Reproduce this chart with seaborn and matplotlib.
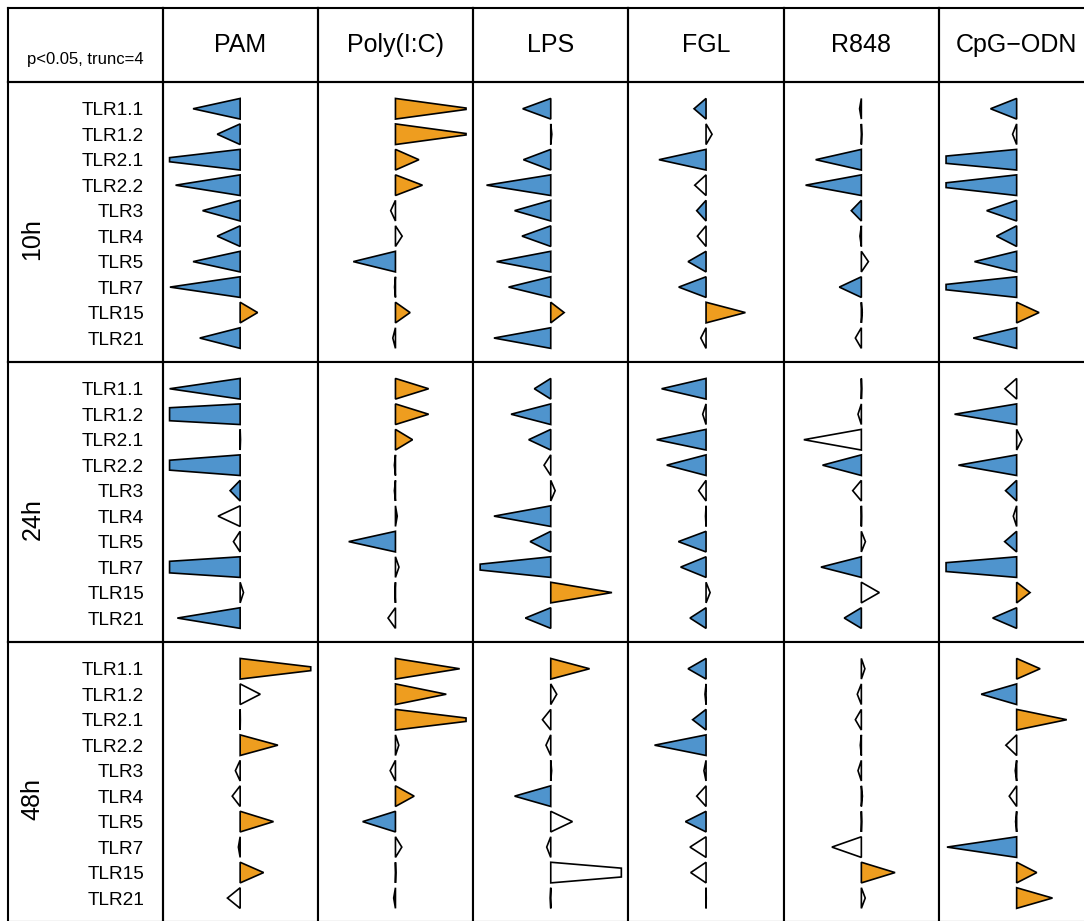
import numpy as np
import pandas as pd
import matplotlib
matplotlib.use("Agg")
import matplotlib.pyplot as plt
import seaborn as sns

TRUNC = 4
HALF = 0.405

tlrs = ["TLR1.1", "TLR1.2", "TLR2.1", "TLR2.2", "TLR3", "TLR4", "TLR5", "TLR7", "TLR15", "TLR21"]
stimuli = ["PAM", "Poly(I:C)", "LPS", "FGL", "R848", "CpG\u2212ODN"]
times = ["10h", "24h", "48h"]

# log fold changes, one list per stimulus (order of tlrs)
lfc_10h = [
    [-2.67, -1.30, -5.0, -3.66, -2.13, -1.30, -2.67, -3.98, 0.99, -2.29],
    [4.3, 4.3, 1.33, 1.53, -0.27, 0.38, -2.39, -0.05, 0.83, -0.15],
    [-1.59, 0.06, -1.55, -3.64, -2.05, -1.63, -3.07, -2.39, 0.76, -3.22],
    [-0.68, 0.34, -2.67, -0.64, -0.53, -0.49, -1.02, -1.55, 2.23, -0.30],
    [-0.10, 0.03, -2.59, -3.16, -0.57, -0.08, 0.40, -1.25, 0.05, -0.34],
    [-1.48, -0.23, -6.2, -5.2, -1.70, -1.14, -2.39, -5.4, 1.27, -2.46],
]
sig_10h = [
    [1, 1, 1, 1, 1, 1, 1, 1, 1, 1],
    [1, 1, 1, 1, 0, 0, 1, 0, 1, 0],
    [1, 0, 1, 1, 1, 1, 1, 1, 1, 1],
    [1, 0, 1, 0, 1, 0, 1, 1, 1, 0],
    [0, 0, 1, 1, 1, 0, 0, 1, 0, 0],
    [1, 0, 1, 1, 1, 1, 1, 1, 1, 1],
]

lfc_24h = [
    [-4.0, -10.8, 0.02, -7.7, -0.57, -1.25, -0.38, -9.1, 0.19, -3.56],
    [1.88, 1.88, 0.97, -0.06, -0.06, 0.10, -2.65, 0.20, -0.03, -0.42],
    [-0.93, -2.25, -1.25, -0.38, 0.25, -3.22, -1.17, -5.6, 3.47, -1.44],
    [-2.52, -0.19, -2.80, -2.23, -0.42, -0.03, -1.57, -1.44, 0.23, -0.91],
    [0.02, -0.19, -3.26, -2.20, -0.49, 0.01, 0.23, -2.29, 1.02, -0.97],
    [-0.66, -3.52, 0.30, -3.30, -0.63, -0.19, -0.68, -7.0, 0.76, -1.36],
]
sig_24h = [
    [1, 1, 0, 1, 1, 0, 0, 1, 0, 1],
    [1, 1, 1, 0, 0, 0, 1, 0, 0, 0],
    [1, 1, 1, 0, 0, 1, 1, 1, 1, 1],
    [1, 0, 1, 1, 0, 0, 1, 1, 0, 1],
    [0, 0, 0, 1, 0, 0, 0, 1, 0, 1],
    [0, 1, 0, 1, 1, 0, 1, 1, 1, 1],
]

lfc_48h = [
    [4.9, 1.14, 0.01, 2.14, -0.27, -0.45, 1.89, -0.10, 1.33, -0.72],
    [3.64, 2.88, 4.8, 0.19, -0.30, 1.06, -1.86, 0.36, 0.02, -0.10],
    [2.20, 0.34, -0.47, -0.27, 0.05, -2.05, 1.23, -0.23, 7.0, -0.03],
    [-1.02, -0.06, -0.76, -2.92, -0.12, -0.53, -1.17, -0.91, -0.87, 0.01],
    [0.20, -0.23, -0.34, -0.06, -0.19, 0.06, 0.02, -1.67, 1.91, 0.22],
    [1.33, -2.01, 2.84, -0.61, -0.08, -0.42, -0.06, -3.95, 1.14, 2.03],
]
sig_48h = [
    [1, 0, 0, 1, 0, 0, 1, 0, 1, 0],
    [1, 1, 1, 0, 0, 1, 1, 0, 0, 0],
    [1, 0, 0, 0, 0, 1, 0, 0, 0, 0],
    [1, 0, 1, 1, 0, 0, 1, 0, 0, 0],
    [0, 0, 0, 0, 0, 0, 0, 0, 1, 0],
    [1, 1, 1, 0, 0, 0, 0, 1, 1, 1],
]

UP = "#EE9D1F"
DOWN = "#4F94CD"

records = []
for t, lfc, sig in [("10h", lfc_10h, sig_10h), ("24h", lfc_24h, sig_24h), ("48h", lfc_48h, sig_48h)]:
    for si, s in enumerate(stimuli):
        for k, tlr in enumerate(tlrs):
            records.append({"time": t, "stimulus": s, "tlr": tlr, "pos": k + 1,
                            "lfc": lfc[si][k], "sig": sig[si][k]})
df = pd.DataFrame(records)


def draw_triangles(data, **kws):
    ax = plt.gca()
    for _, r in data.iterrows():
        v = r["lfc"]
        y = r["pos"]
        if abs(v) > TRUNC:
            tip = np.sign(v) * TRUNC
            hh = HALF * (1 - TRUNC / abs(v))
        else:
            tip = v
            hh = 0
        if r["sig"] == 1:
            fc = UP if v > 0 else DOWN
        else:
            fc = "white"
        ax.fill([0, tip, tip, 0], [y - HALF, y - hh, y + hh, y + HALF],
                facecolor=fc, edgecolor="black", linewidth=1.2, joinstyle="miter")


sns.set_theme(style="white")
plt.rcParams["font.family"] = ["Liberation Sans", "DejaVu Sans"]
plt.rcParams["text.color"] = "black"
plt.rcParams["ytick.color"] = "black"

g = sns.FacetGrid(df, row="time", col="stimulus", row_order=times, col_order=stimuli,
                  sharex=False, sharey=False, despine=False, height=2.8, aspect=0.55)
g.map_dataframe(draw_triangles)
g.set_titles(template="", row_template="", col_template="")

W, H = 1084, 921
fig = g.figure
fig.set_size_inches(W / 100, H / 100)
colw = 155.3
x0, y_head, rowh = 162.5, 82, 280
fig.subplots_adjust(left=x0 / W, right=(x0 + 6 * colw) / W, top=1 - y_head / H,
                    bottom=1 - (y_head + 3 * rowh) / H, wspace=0, hspace=0)

for i in range(3):
    for j in range(6):
        ax = g.axes[i, j]
        ax.set_xlim(-4.4, 4.4)
        ax.set_ylim(10.94, -0.05)
        ax.set_xticks([])
        ax.set_xlabel("")
        ax.set_ylabel("")
        for sp in ax.spines.values():
            sp.set_color("black")
            sp.set_linewidth(1.5)
        if j == 0:
            ax.set_yticks(range(1, 11))
            ax.set_yticklabels(tlrs, fontsize=13.7, color="black")
            ax.tick_params(axis="y", length=0, pad=13.3, labelcolor="black")
        else:
            ax.set_yticks([])


def box(rect):
    a = fig.add_axes(rect)
    a.set_xticks([])
    a.set_yticks([])
    a.set_facecolor("none")
    for sp in a.spines.values():
        sp.set_color("black")
        sp.set_linewidth(1.5)
    return a


corner = box([7.5 / W, 1 - y_head / H, (x0 - 7.5) / W, (y_head - 8) / H])
corner.text(0.5, 0.30, "p<0.05, trunc=" + str(TRUNC), ha="center", va="center",
            fontsize=12, color="black")

for j, s in enumerate(stimuli):
    hx = box([(x0 + j * colw) / W, 1 - y_head / H, colw / W, (y_head - 8) / H])
    hx.text(0.5, 0.5, s, ha="center", va="center", fontsize=18, color="black")

for i, t in enumerate(times):
    lx = box([7.5 / W, 1 - (y_head + (i + 1) * rowh) / H, (x0 - 7.5) / W, rowh / H])
    lx.text(0.16, 0.44, t, ha="center", va="center", rotation=90, fontsize=18, color="black")

fig.savefig("out.png", dpi=100)
